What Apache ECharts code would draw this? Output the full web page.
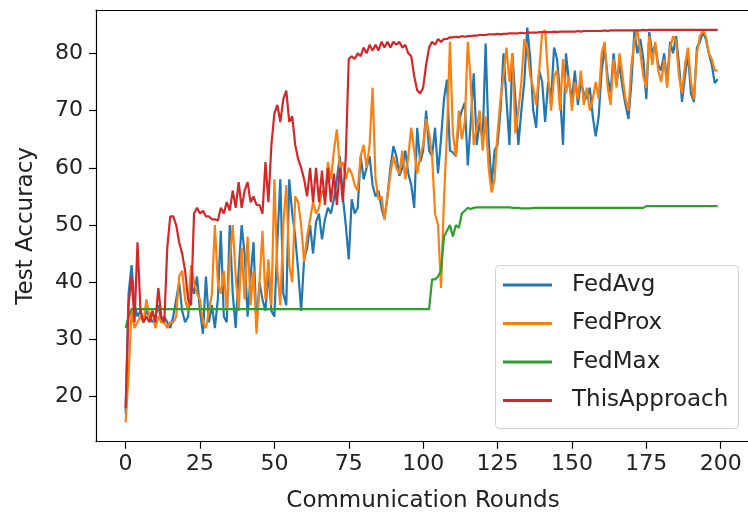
<!DOCTYPE html>
<html>
<head>
<meta charset="utf-8">
<script src="https://cdn.jsdelivr.net/npm/echarts@6/dist/echarts.min.js"></script>
<style>
html, body { margin: 0; padding: 0; background: #fff; overflow: hidden; }
#chart { width: 748px; height: 520px; }
</style>
</head>
<body>
<div id="chart"></div>
<script>
const xTicks = [0, 25, 50, 75, 100, 125, 150, 175, 200]
const yTicks = [20, 30, 40, 50, 60, 70, 80]

const fedAvg = [
    17, 38, 43, 36, 34, 35, 33, 35, 34, 33,
    34, 36, 33, 34, 33, 32, 34, 37, 40, 35,
    33, 34, 40, 38, 41, 35, 31, 41, 33, 36,
    32, 37, 49, 34, 33, 50, 38, 32, 42, 50,
    45, 34, 41, 47, 32, 40, 37, 35, 42, 35,
    34, 47, 58, 38, 36, 58, 52, 48, 42, 35,
    44, 46, 50, 45, 50.5, 52, 47.5, 51, 53, 52,
    54.5, 58, 62, 55, 50, 44, 54.5, 52, 53, 62,
    58, 60, 62, 57, 55, 56, 53, 51, 55, 60,
    63.8, 62, 58.6, 60, 63, 59, 57, 53, 67, 61,
    63, 70, 63, 62, 67, 59, 65, 72, 75.4, 63,
    62.7, 62, 68, 70, 71.4, 60.4, 68, 76.5, 64, 68,
    65, 81.7, 65, 57, 63, 64, 70, 80, 72, 64,
    80, 72, 64, 70, 75, 84.5, 79, 70, 67, 77,
    75, 68, 75, 72, 81, 79, 73, 64, 80, 75,
    72, 77, 71, 75, 73, 72, 74, 69, 65.5, 69,
    77, 81, 76, 73, 80, 75, 78, 74, 71, 68.5,
    75, 83.9, 80, 82.5, 79, 72, 83.7, 80, 81.5, 78,
    77, 80, 75, 82, 80, 83, 78, 71.5, 76, 80,
    73, 71.5, 81, 82, 83.7, 82.5, 80, 78, 74.8, 75.5
]

const fedProx = [
    15.5, 24, 35, 32, 33, 34, 33, 37, 34, 35,
    32, 34, 33, 33, 32, 33, 33, 34, 41, 42,
    37, 35, 43, 40, 38, 37, 33, 32, 35, 38,
    50, 40, 38, 42, 35, 44, 50, 41, 35, 46,
    37, 48, 36, 42, 31, 40, 49, 37, 44, 36,
    58, 42, 36, 50, 57, 43, 40, 55, 54, 50,
    43.5, 48, 51, 54, 52, 53, 56, 55, 61, 58,
    63, 66.7, 60, 61, 58, 60, 59, 57, 56, 62,
    64, 60, 64, 74, 58, 54.5, 55, 51, 55, 59,
    62, 60, 59, 63, 58, 62, 67, 63, 59, 62,
    64, 68.5, 66, 62, 52, 50, 39, 54.5, 66, 82,
    66, 62, 70, 65, 68, 82, 75, 64, 67, 70,
    63, 69, 60, 55.7, 58, 66, 72, 76, 81, 75,
    80, 66, 70, 75, 82.5, 81, 76, 74, 71, 77,
    83.7, 84, 76, 70, 76, 77, 70, 79, 73, 76,
    70, 75, 72, 77, 71, 74, 70, 72, 75, 72,
    80, 82, 74, 71, 79, 74, 80, 76, 72, 70,
    78, 82, 84, 80, 76, 74, 83, 78, 82, 77,
    75, 79, 74, 81, 83, 82, 76, 73, 78, 81,
    75, 72, 80, 83, 84, 83, 80, 79, 77, 77
]

const fedMax = [
    32, 34, 35.3, 35.3, 35.3, 35.3, 35.3, 35.3, 35.3, 35.3,
    35.3, 35.3, 35.3, 35.3, 35.3, 35.3, 35.3, 35.3, 35.3, 35.3,
    35.3, 35.3, 35.3, 35.3, 35.3, 35.3, 35.3, 35.3, 35.3, 35.3,
    35.3, 35.3, 35.3, 35.3, 35.3, 35.3, 35.3, 35.3, 35.3, 35.3,
    35.3, 35.3, 35.3, 35.3, 35.3, 35.3, 35.3, 35.3, 35.3, 35.3,
    35.3, 35.3, 35.3, 35.3, 35.3, 35.3, 35.3, 35.3, 35.3, 35.3,
    35.3, 35.3, 35.3, 35.3, 35.3, 35.3, 35.3, 35.3, 35.3, 35.3,
    35.3, 35.3, 35.3, 35.3, 35.3, 35.3, 35.3, 35.3, 35.3, 35.3,
    35.3, 35.3, 35.3, 35.3, 35.3, 35.3, 35.3, 35.3, 35.3, 35.3,
    35.3, 35.3, 35.3, 35.3, 35.3, 35.3, 35.3, 35.3, 35.3, 35.3,
    35.3, 35.3, 35.3, 40.5, 40.5, 41, 42, 48, 49, 50,
    48, 50, 49.5, 52, 52.5, 53, 52.8, 53, 53.1, 53.1,
    53.1, 53.1, 53.1, 53.1, 53.1, 53.1, 53.1, 53.1, 53.1, 53.1,
    53, 53, 53, 52.9, 52.9, 52.9, 52.9, 53, 53, 53,
    53, 53, 53, 53, 53, 53, 53, 53, 53, 53,
    53, 53, 53, 53, 53, 53, 53, 53, 53, 53,
    53, 53, 53, 53, 53, 53, 53, 53, 53, 53,
    53, 53, 53, 53, 53, 53.3, 53.3, 53.3, 53.3, 53.3,
    53.3, 53.3, 53.3, 53.3, 53.3, 53.3, 53.3, 53.3, 53.3, 53.3,
    53.3, 53.3, 53.3, 53.3, 53.3, 53.3, 53.3, 53.3, 53.3, 53.3
]

const thisApproach = [
    18, 36, 41, 33, 47, 35, 33, 34, 33, 35,
    33, 39, 34, 33, 46, 51.5, 51.5, 50, 47, 45,
    42, 37, 36, 52, 53, 52, 52.5, 51.5, 51.5, 51,
    51, 50.8, 53, 52, 54, 52.5, 56, 53, 57.5, 53,
    56, 57.5, 54, 55, 53.5, 53.5, 52, 61, 54, 64,
    69.5, 71, 68, 72, 73.5, 68, 69, 64, 61.5, 60,
    58, 55, 60, 54, 60, 54, 59.5, 53.5, 60, 54,
    59, 53.5, 60, 54, 62, 79, 79.5, 79, 80, 79.5,
    81, 80, 81.5, 80.5, 81.5, 80.5, 82, 81, 82, 81,
    82, 81.5, 82, 81, 81.5, 80, 79.5, 76, 73.5, 73,
    74, 78, 81, 82, 81.5, 82.5, 82, 82.5, 82.5, 82.8,
    82.8, 82.9, 82.8, 83, 82.9, 83, 83, 83.1, 83.1, 83.2,
    83.2, 83.2, 83.3, 83.3, 83.3, 83.4, 83.3, 83.4, 83.4, 83.5,
    83.5, 83.5, 83.5, 83.6, 83.5, 83.6, 83.6, 83.6, 83.6, 83.7,
    83.7, 83.7, 83.7, 83.7, 83.8, 83.7, 83.8, 83.8, 83.8, 83.8,
    83.8, 83.8, 83.9, 83.8, 83.9, 83.9, 83.9, 83.9, 83.9, 83.9,
    83.9, 84, 83.9, 84, 84, 84, 84, 84, 84, 84,
    84, 84, 84, 84, 84.1, 84, 84.1, 84.1, 84.1, 84.1,
    84.1, 84.1, 84.1, 84.1, 84.1, 84.1, 84.1, 84.1, 84.1, 84.1,
    84.1, 84.1, 84.1, 84.1, 84.1, 84.1, 84.1, 84.1, 84.1, 84.1
]

const seriesNames = ['FedAvg', 'FedProx', 'FedMax', 'ThisApproach']
const seriesData = [fedAvg, fedProx, fedMax, thisApproach]
const colors = ['#1f77b4', '#ff7f0e', '#2ca02c', '#d62728']

const font = 'DejaVu Sans'
const textColor = '#222'
const frame = {show: true, onZero: false, lineStyle: {color: '#000', width: 1.2}}

const chart = echarts.init(document.getElementById('chart'))

const option = {
    animation: false,
    color: colors,
    grid: {
        left: 96,
        top: 10,
        width: 654,
        height: 431.7,
        show: false,
        outerBoundsMode: 'none'
    },
    // legend frame, drawn under the legend items
    graphic: [{
        type: 'rect',
        left: 495,
        top: 265,
        z: 3,
        shape: {width: 243, height: 163, r: 4},
        style: {fill: 'rgba(255,255,255,0.85)', stroke: '#cfcfcf', lineWidth: 1}
    }],
    legend: {
        orient: 'vertical',
        left: 503,
        top: 271.5,
        data: seriesNames,
        icon: 'rect',
        itemWidth: 49,
        itemHeight: 3,
        itemGap: 11.5,
        padding: 0,
        textStyle: {
            fontFamily: font,
            fontSize: 23,
            lineHeight: 27,
            color: textColor,
            padding: [0, 0, 0, 15]
        }
    },
    xAxis: [
        {
            type: 'value',
            min: -9.95,
            max: 209.85,
            name: 'Communication Rounds',
            nameLocation: 'middle',
            nameGap: 48,
            nameTextStyle: {fontFamily: font, fontSize: 23, color: textColor},
            splitLine: {show: false},
            axisLine: frame,
            axisTick: {
                show: true,
                length: 7,
                customValues: xTicks,
                lineStyle: {color: '#000', width: 1.2}
            },
            axisLabel: {
                customValues: xTicks,
                margin: 12,
                fontFamily: font,
                fontSize: 22,
                color: textColor
            }
        },
        {
            // top spine only
            type: 'value',
            position: 'top',
            min: -9.95,
            max: 209.85,
            splitLine: {show: false},
            axisLine: frame,
            axisTick: {show: false},
            axisLabel: {show: false}
        }
    ],
    yAxis: {
        type: 'value',
        min: 12.14,
        max: 87.57,
        name: 'Test Accuracy',
        nameLocation: 'middle',
        nameGap: 58,
        nameTextStyle: {fontFamily: font, fontSize: 23, color: textColor},
        splitLine: {show: false},
        axisLine: frame,
        axisTick: {
            show: true,
            length: 7,
            customValues: yTicks,
            lineStyle: {color: '#000', width: 1.2}
        },
        axisLabel: {
            customValues: yTicks,
            margin: 13,
            fontFamily: font,
            fontSize: 22,
            color: textColor
        }
    },
    series: seriesNames.map((name, k) => ({
        name: name,
        type: 'line',
        showSymbol: false,
        symbol: 'none',
        lineStyle: {width: 2.2, color: colors[k]},
        data: seriesData[k].map((v, i) => [i, v])
    }))
}

chart.setOption(option)
</script>
</body>
</html>
